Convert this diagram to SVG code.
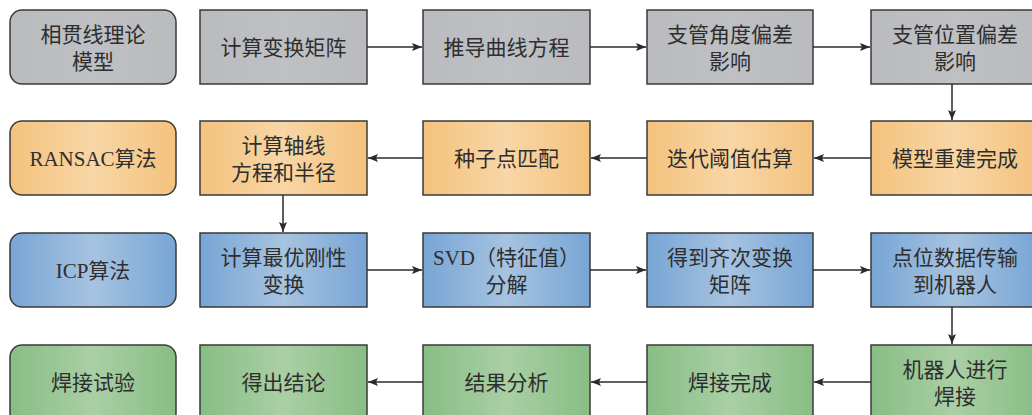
<svg xmlns="http://www.w3.org/2000/svg" width="1032" height="415" viewBox="0 0 1032 415">
<defs>
<linearGradient id="gGray" x1="0" y1="0" x2="1" y2="0"><stop offset="0" stop-color="#babbbe"/><stop offset="0.5" stop-color="#bec0c3"/><stop offset="1" stop-color="#babbbe"/></linearGradient>
<linearGradient id="gOrange" x1="0" y1="0" x2="1" y2="0"><stop offset="0" stop-color="#f4c27d"/><stop offset="0.5" stop-color="#f8d6a6"/><stop offset="1" stop-color="#f4c27d"/></linearGradient>
<linearGradient id="gBlue" x1="0" y1="0" x2="1" y2="0"><stop offset="0" stop-color="#78a5d5"/><stop offset="0.5" stop-color="#a6c3e0"/><stop offset="1" stop-color="#78a5d5"/></linearGradient>
<linearGradient id="gGreen" x1="0" y1="0" x2="1" y2="0"><stop offset="0" stop-color="#88bd85"/><stop offset="0.5" stop-color="#aacfa5"/><stop offset="1" stop-color="#88bd85"/></linearGradient>
<marker id="arr" markerWidth="10" markerHeight="8" refX="10" refY="4" orient="auto" markerUnits="userSpaceOnUse">
<path d="M0,0 L10,4 L0,8 L2,4 Z" fill="#2b2b2b"/>
</marker>
</defs>
<style>
.box{stroke:#3a3a3a;stroke-width:1.5}
.gray{fill:url(#gGray)}
.orange{fill:url(#gOrange)}
.blue{fill:url(#gBlue)}
.green{fill:url(#gGreen)}
text{font-family:"Liberation Serif","Noto Sans CJK SC",serif;font-size:21px;fill:#2e2e2e;text-anchor:middle}
.conn line{stroke:#2b2b2b;stroke-width:1.5;marker-end:url(#arr)}
</style>

<!-- Row 1 -->
<g id="n-r1-label"><rect class="box gray" x="10" y="10" width="166" height="74" rx="12"/><text x="93" y="42">相贯线理论</text><text x="93" y="69">模型</text></g>
<g id="n-r1-c1"><rect class="box gray" x="200" y="10" width="167" height="74"/><text x="283.5" y="55">计算变换矩阵</text></g>
<g id="n-r1-c2"><rect class="box gray" x="423" y="10" width="167" height="74"/><text x="506.5" y="55">推导曲线方程</text></g>
<g id="n-r1-c3"><rect class="box gray" x="647" y="10" width="166" height="74"/><text x="730" y="42">支管角度偏差</text><text x="730" y="69">影响</text></g>
<g id="n-r1-c4"><rect class="box gray" x="871" y="10" width="168" height="74"/><text x="955" y="42">支管位置偏差</text><text x="955" y="69">影响</text></g>

<!-- Row 2 -->
<g id="n-r2-label"><rect class="box orange" x="10" y="121" width="166" height="74" rx="12"/><text x="93" y="166">RANSAC算法</text></g>
<g id="n-r2-c1"><rect class="box orange" x="200" y="121" width="167" height="74"/><text x="283.5" y="153">计算轴线</text><text x="283.5" y="180">方程和半径</text></g>
<g id="n-r2-c2"><rect class="box orange" x="423" y="121" width="167" height="74"/><text x="506.5" y="166">种子点匹配</text></g>
<g id="n-r2-c3"><rect class="box orange" x="647" y="121" width="166" height="74"/><text x="730" y="166">迭代阈值估算</text></g>
<g id="n-r2-c4"><rect class="box orange" x="871" y="121" width="168" height="74"/><text x="955" y="166">模型重建完成</text></g>

<!-- Row 3 -->
<g id="n-r3-label"><rect class="box blue" x="10" y="233" width="166" height="74" rx="12"/><text x="93" y="278">ICP算法</text></g>
<g id="n-r3-c1"><rect class="box blue" x="200" y="233" width="167" height="74"/><text x="283.5" y="265">计算最优刚性</text><text x="283.5" y="292">变换</text></g>
<g id="n-r3-c2"><rect class="box blue" x="423" y="233" width="167" height="74"/><text x="506.5" y="265">SVD（特征值）</text><text x="506.5" y="292">分解</text></g>
<g id="n-r3-c3"><rect class="box blue" x="647" y="233" width="166" height="74"/><text x="730" y="265">得到齐次变换</text><text x="730" y="292">矩阵</text></g>
<g id="n-r3-c4"><rect class="box blue" x="871" y="233" width="168" height="74"/><text x="955" y="265">点位数据传输</text><text x="955" y="292">到机器人</text></g>

<!-- Row 4 -->
<g id="n-r4-label"><rect class="box green" x="10" y="345" width="166" height="80" rx="12"/><text x="93" y="390">焊接试验</text></g>
<g id="n-r4-c1"><rect class="box green" x="200" y="345" width="167" height="80"/><text x="283.5" y="390">得出结论</text></g>
<g id="n-r4-c2"><rect class="box green" x="423" y="345" width="167" height="80"/><text x="506.5" y="390">结果分析</text></g>
<g id="n-r4-c3"><rect class="box green" x="647" y="345" width="166" height="80"/><text x="730" y="390">焊接完成</text></g>
<g id="n-r4-c4"><rect class="box green" x="871" y="345" width="168" height="80"/><text x="955" y="377">机器人进行</text><text x="955" y="404">焊接</text></g>

<g id="connectors" class="conn">
<line x1="367" y1="47" x2="422" y2="47"/>
<line x1="590" y1="47" x2="646" y2="47"/>
<line x1="813" y1="47" x2="870" y2="47"/>
<line x1="952" y1="84" x2="952" y2="120"/>
<line x1="871" y1="158" x2="814" y2="158"/>
<line x1="647" y1="158" x2="591" y2="158"/>
<line x1="423" y1="158" x2="368" y2="158"/>
<line x1="283" y1="195" x2="283" y2="232"/>
<line x1="367" y1="270" x2="422" y2="270"/>
<line x1="590" y1="270" x2="646" y2="270"/>
<line x1="813" y1="270" x2="870" y2="270"/>
<line x1="952" y1="307" x2="952" y2="344"/>
<line x1="871" y1="382" x2="814" y2="382"/>
<line x1="647" y1="382" x2="591" y2="382"/>
<line x1="423" y1="382" x2="368" y2="382"/>
</g>
</svg>
